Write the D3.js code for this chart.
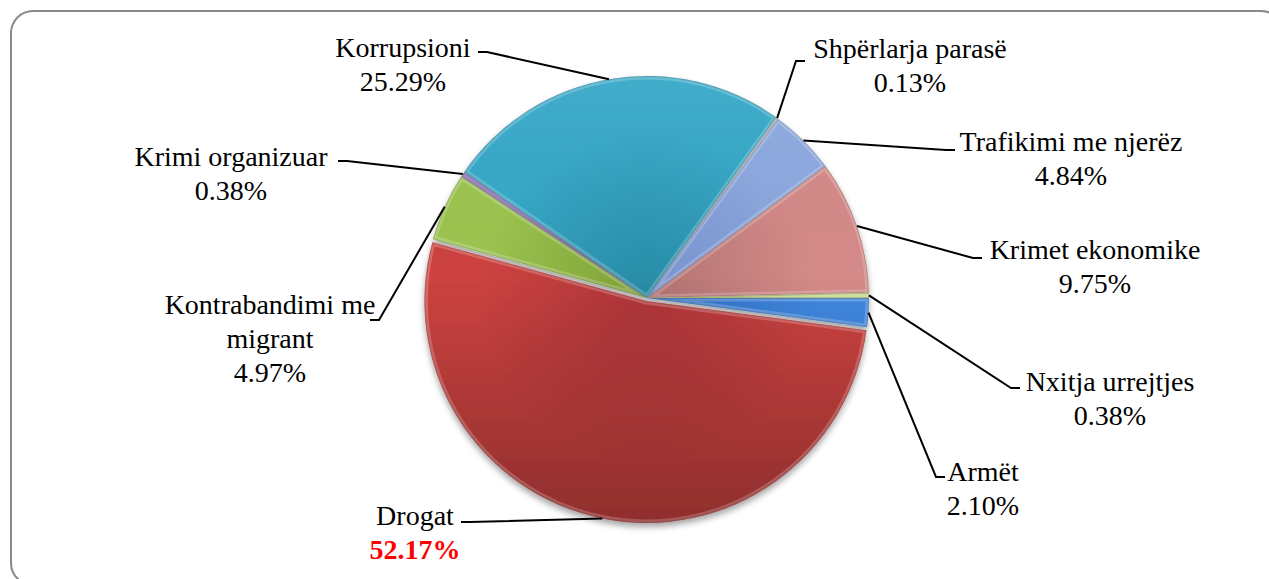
<!DOCTYPE html>
<html>
<head>
<meta charset="utf-8">
<script src="https://cdn.jsdelivr.net/npm/d3@7"></script>
<style>
  body { margin: 0; background: #fff; }
  svg text { font-family: "Liberation Serif", "DejaVu Serif", serif; font-size: 28px; fill: #000; }
</style>
</head>
<body>
<div id="chart"></div>
<script>
// data, in Excel series order (first slice starts at 90 degrees)
var categories = ["Armët", "Drogat", "Kontrabandimi me migrant", "Krimi organizuar", "Korrupsioni",
                  "Shpërlarja parasë", "Trafikimi me njerëz", "Krimet ekonomike", "Nxitja urrejtjes"];
var values = [2.10, 52.17, 4.97, 0.38, 25.29, 0.13, 4.84, 9.75, 0.38];
var value_labels = ["2.10%", "52.17%", "4.97%", "0.38%", "25.29%", "0.13%", "4.84%", "9.75%", "0.38%"];
// label text lines
var label_lines = [["Armët"], ["Drogat"], ["Kontrabandimi me", "migrant"], ["Krimi organizuar"], ["Korrupsioni"],
                   ["Shpërlarja parasë"], ["Trafikimi me njerëz"], ["Krimet ekonomike"], ["Nxitja urrejtjes"]];

// palette: [centre, rim]
var colors = [["#2F6CC0", "#4088E0"], ["#B0363A", "#CC4240"], ["#7C9E34", "#9CC450"], ["#6A4C92", "#8A68B4"],
              ["#288AA4", "#36A8C8"], ["#B8A890", "#D8C8B0"], ["#7690CC", "#8CA8DE"], ["#B07270", "#D48A88"],
              ["#A8C060", "#C8DC88"]];

var width = 1269, height = 579;
var cx = 647, cy = 298, radius = 222;

// label placement: text centre x, first baseline y, leader end (lx, ly), side
var label_pos = [
  {x: 983, y: 481, lx: 945, ly: 477, side: "r"},
  {x: 415, y: 525, lx: 461, ly: 522, side: "l"},
  {x: 270, y: 314, lx: 370, ly: 320, side: "l"},
  {x: 231, y: 166, lx: 338, ly: 161, side: "l"},
  {x: 403, y: 57, lx: 478, ly: 52, side: "l"},
  {x: 910, y: 58, lx: 805, ly: 61, side: "r"},
  {x: 1071, y: 151, lx: 955, ly: 150, side: "r"},
  {x: 1095, y: 259, lx: 982, ly: 258, side: "r"},
  {x: 1110, y: 391, lx: 1020, ly: 388, side: "r"}
];
var line_h = 34;
var explode = [0, 3, 0, 0, 0, 0, 0, 0, 0];

var svg = d3.select("#chart").append("svg")
    .attr("width", width)
    .attr("height", height);

var defs = svg.append("defs");

// frame
svg.append("rect")
    .attr("x", 11).attr("y", 11)
    .attr("width", 1272).attr("height", 574)
    .attr("rx", 22).attr("ry", 22)
    .attr("fill", "#fff")
    .attr("stroke", "#8a8a8a")
    .attr("stroke-width", 2);

var shadow = defs.append("filter").attr("id", "shadow")
    .attr("x", "-10%").attr("y", "-10%").attr("width", "120%").attr("height", "125%");
shadow.append("feGaussianBlur").attr("in", "SourceAlpha").attr("stdDeviation", 3);
shadow.append("feOffset").attr("dy", 4).attr("result", "blur");
shadow.append("feComponentTransfer").append("feFuncA").attr("type", "linear").attr("slope", 0.35);
var merge = shadow.append("feMerge");
merge.append("feMergeNode");
merge.append("feMergeNode").attr("in", "SourceGraphic");

colors.forEach(function(c, i) {
  var g = defs.append("radialGradient")
      .attr("id", "grad" + i)
      .attr("gradientUnits", "userSpaceOnUse")
      .attr("cx", 0).attr("cy", 0).attr("r", radius);
  g.append("stop").attr("offset", "0%").attr("stop-color", c[0]);
  g.append("stop").attr("offset", "75%").attr("stop-color", c[1]);
  g.append("stop").attr("offset", "100%").attr("stop-color", c[1]);
});

// vertical shading: darker toward the bottom
var shade = defs.append("linearGradient")
    .attr("id", "shade")
    .attr("gradientUnits", "userSpaceOnUse")
    .attr("x1", 0).attr("y1", -radius)
    .attr("x2", 0).attr("y2", radius);
shade.append("stop").attr("offset", "0%").attr("stop-color", "#fff").attr("stop-opacity", 0.06);
shade.append("stop").attr("offset", "45%").attr("stop-color", "#000").attr("stop-opacity", 0);
shade.append("stop").attr("offset", "100%").attr("stop-color", "#000").attr("stop-opacity", 0.3);

var pie = d3.pie()
    .sort(null)
    .value(function(d) { return d; })
    .startAngle(Math.PI / 2)
    .endAngle(Math.PI / 2 + 2 * Math.PI);

var arcs = pie(values);

var arc = d3.arc().innerRadius(0).outerRadius(radius);

function mid(d) { return (d.startAngle + d.endAngle) / 2; }
function offset(d, i) {
  var a = mid(d);
  return [Math.sin(a) * explode[i], -Math.cos(a) * explode[i]];
}

var pie_g = svg.append("g")
    .attr("transform", "translate(" + cx + "," + cy + ")")
    .attr("filter", "url(#shadow)");

arcs.forEach(function(d, i) {
  defs.append("clipPath").attr("id", "clip" + i)
    .append("path").attr("d", arc(d));
});

var slice = pie_g.selectAll(".slice")
    .data(arcs)
  .enter().append("g")
    .attr("class", "slice")
    .attr("transform", function(d, i) { var o = offset(d, i); return "translate(" + o[0] + "," + o[1] + ")"; });

slice.append("path")
    .attr("d", arc)
    .attr("fill", function(d, i) { return "url(#grad" + i + ")"; });

slice.append("path")
    .attr("d", arc)
    .attr("fill", "url(#shade)");

// bevel: soft light rim inside each slice
slice.append("path")
    .attr("d", arc)
    .attr("clip-path", function(d, i) { return "url(#clip" + i + ")"; })
    .attr("fill", "none")
    .attr("stroke", "#fff")
    .attr("stroke-opacity", 0.2)
    .attr("stroke-width", 7);
slice.append("path")
    .attr("d", arc)
    .attr("clip-path", function(d, i) { return "url(#clip" + i + ")"; })
    .attr("fill", "none")
    .attr("stroke", "#000")
    .attr("stroke-opacity", 0.15)
    .attr("stroke-width", 2);

// leader lines
var leaders = svg.append("g").attr("class", "leaders");
arcs.forEach(function(d, i) {
  var a = mid(d), o = offset(d, i), p = label_pos[i];
  var px = cx + o[0] + Math.sin(a) * radius,
      py = cy + o[1] - Math.cos(a) * radius;
  var ex = p.side == "r" ? p.lx - 9 : p.lx + 9;
  leaders.append("polyline")
      .attr("points", [[px, py], [ex, p.ly], [p.lx, p.ly]].map(function(q) { return q.join(","); }).join(" "))
      .attr("fill", "none")
      .attr("stroke", "#000")
      .attr("stroke-width", 2);
});

// labels
var labels = svg.append("g").attr("class", "labels");
categories.forEach(function(c, i) {
  var p = label_pos[i];
  var t = labels.append("text")
      .attr("text-anchor", "middle");
  label_lines[i].forEach(function(l, j) {
    t.append("tspan").attr("x", p.x).attr("y", p.y + j * line_h).text(l);
  });
  var v = t.append("tspan")
      .attr("x", p.x)
      .attr("y", p.y + label_lines[i].length * line_h)
      .text(value_labels[i]);
  if (c == "Drogat")
    v.style("fill", "#ff0000").style("font-weight", "bold");
});
</script>
</body>
</html>
